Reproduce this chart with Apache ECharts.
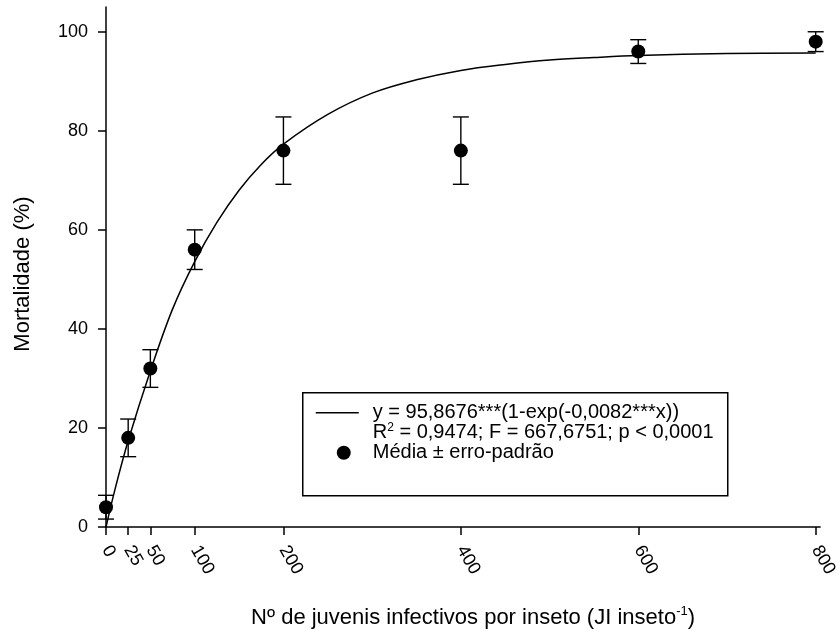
<!DOCTYPE html>
<html>
<head>
<meta charset="utf-8">
<title>Mortalidade</title>
<script src="https://cdn.jsdelivr.net/npm/echarts@6/dist/echarts.min.js"></script>
<style>
  html, body { margin: 0; padding: 0; background: #fff; }
  #chart { width: 840px; height: 636px; }
</style>
</head>
<body>
<div id="chart"></div>
<script>
// Doses (JI per insect) and observed mortality
const doses = [0, 25, 50, 100, 200, 400, 600, 800];
const mortality = [4, 18, 32, 56, 76, 76, 96, 98];
const stdErr = [2.4, 3.8, 3.8, 4, 6.8, 6.8, 2.4, 2];

// Fitted curve samples
const curveX = [0, 10, 25, 50, 75, 100, 125, 150, 175, 200, 250, 300, 350, 400, 450, 500, 550, 600, 700, 800];
const curveY = [0, 7.5, 17.4, 31.5, 44.0, 53.6, 61.5, 68.0, 73.2, 77.3, 83.3, 87.6, 90.3, 92.2, 93.4, 94.3, 94.8, 95.2, 95.6, 95.7];

// Tick labels
const xTicks = [0, 25, 50, 100, 200, 400, 600, 800];
const yTicks = [0, 20, 40, 60, 80, 100];

const FONT = 'Liberation Sans, Arial, sans-serif';
const chart = echarts.init(document.getElementById('chart'));

const errData = doses.map((d, i) => [d, mortality[i], mortality[i] - stdErr[i], mortality[i] + stdErr[i]]);

chart.setOption({
  animation: false,
  backgroundColor: '#fff',
  grid: { left: 106, right: 18, top: 7, bottom: 109 },
  xAxis: {
    type: 'value', min: 0, max: 805,
    name: 'Nº de juvenis infectivos por inseto (JI inseto{sup|-1})',
    nameLocation: 'middle', nameGap: 78,
    nameTextStyle: {
      fontFamily: FONT, fontSize: 22, color: '#000', padding: [0, 0, 0, 20],
      rich: { sup: { fontFamily: FONT, fontSize: 13, color: '#000', verticalAlign: 'top', padding: [0, 0, 12, 0] } }
    },
    splitLine: { show: false },
    axisLine: { lineStyle: { color: '#000', width: 1.5 } },
    axisTick: { customValues: xTicks, length: 8, lineStyle: { color: '#000', width: 1.5 } },
    axisLabel: { customValues: xTicks, rotate: -60, margin: 20, fontFamily: FONT, fontSize: 18, color: '#000' }
  },
  yAxis: {
    type: 'value', min: 0, max: 105,
    name: 'Mortalidade (%)',
    nameLocation: 'middle', nameGap: 72,
    nameTextStyle: { fontFamily: FONT, fontSize: 22, color: '#000', padding: [0, 14, 0, 0] },
    splitLine: { show: false },
    axisLine: { lineStyle: { color: '#000', width: 1.5 } },
    axisTick: { customValues: yTicks, length: 8, lineStyle: { color: '#000', width: 1.5 } },
    axisLabel: { customValues: yTicks, margin: 18, fontFamily: FONT, fontSize: 18, color: '#000' }
  },
  series: [
    {
      name: 'ajuste', type: 'line', smooth: 0.35, showSymbol: false,
      data: curveX.map((x, i) => [x, curveY[i]]),
      lineStyle: { color: '#000', width: 1.5 }, z: 2
    },
    {
      name: 'erro', type: 'custom', data: errData, z: 3,
      renderItem: function (params, api) {
        const x = api.value(0);
        const lo = api.coord([x, api.value(2)]);
        const hi = api.coord([x, api.value(3)]);
        const cap = 8;
        const style = { stroke: '#000', lineWidth: 1.4 };
        return {
          type: 'group',
          children: [
            { type: 'line', shape: { x1: lo[0], y1: lo[1], x2: hi[0], y2: hi[1] }, style },
            { type: 'line', shape: { x1: hi[0] - cap, y1: hi[1], x2: hi[0] + cap, y2: hi[1] }, style },
            { type: 'line', shape: { x1: lo[0] - cap, y1: lo[1], x2: lo[0] + cap, y2: lo[1] }, style }
          ]
        };
      }
    },
    {
      name: 'media', type: 'scatter', symbol: 'circle', symbolSize: 14, z: 4,
      data: doses.map((d, i) => [d, mortality[i]]),
      itemStyle: { color: '#000', opacity: 1 }
    }
  ],
  graphic: [
    {
      type: 'group', left: 302, top: 392,
      children: [
        { type: 'rect', shape: { x: 0, y: 0, width: 425, height: 103 }, style: { fill: '#fff', stroke: '#000', lineWidth: 1.5 } },
        { type: 'line', shape: { x1: 13, y1: 20, x2: 56, y2: 20 }, style: { stroke: '#000', lineWidth: 1.5 } },
        { type: 'text', x: 70, y: 20, style: { text: 'y = 95,8676***(1-exp(-0,0082***x))', fontFamily: FONT, fontSize: 20, fill: '#000', verticalAlign: 'middle' } },
        { type: 'text', x: 70, y: 40, style: {
            text: 'R{sup|2} = 0,9474; F = 667,6751; p < 0,0001', fontFamily: FONT, fontSize: 20, fill: '#000', verticalAlign: 'middle',
            rich: { sup: { fontFamily: FONT, fontSize: 12, fill: '#000', verticalAlign: 'top', padding: [0, 0, 10, 0] } }
          } },
        { type: 'circle', shape: { cx: 41, cy: 60, r: 7 }, style: { fill: '#000' } },
        { type: 'text', x: 70, y: 60, style: { text: 'Média ± erro-padrão', fontFamily: FONT, fontSize: 20, fill: '#000', verticalAlign: 'middle' } }
      ]
    }
  ]
});
</script>
</body>
</html>
